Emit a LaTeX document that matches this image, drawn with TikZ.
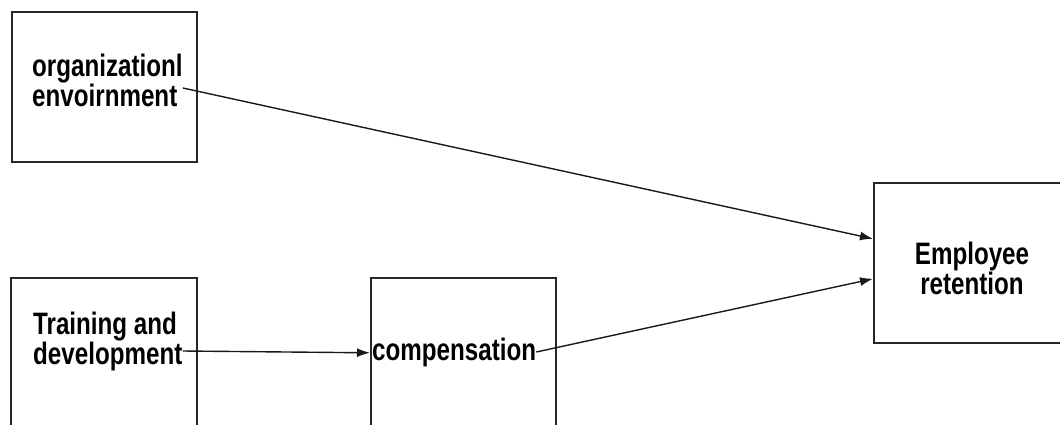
\documentclass[tikz,border=0pt]{standalone}
\usepackage{fontspec}
\newfontfamily\diafont[FakeStretch=0.78]{Liberation Sans Bold}
\usetikzlibrary{arrows.meta,calc}
\begin{document}
\begin{tikzpicture}[x=1pt,y=-1pt,
  box/.style={draw=black!85,line width=1.6pt,rectangle,inner sep=0pt,anchor=north west},
  lbl/.style={inner sep=0pt,font=\diafont\fontsize{31}{28}\selectfont},
  arr/.style={draw=black!90,line width=1.4pt,-{Latex[length=13pt,width=9pt]}}]
\useasboundingbox (0,0) rectangle (1060,425);
\clip (0,0) rectangle (1060,425);
\node[box,minimum width=185pt,minimum height=150pt] (org) at (11,11) {};
\node[box,minimum width=186pt,minimum height=150pt] (train) at (10,277) {};
\node[box,minimum width=185pt,minimum height=150pt] (comp) at (370,277) {};
\node[box,minimum width=250pt,minimum height=160pt] (emp) at (873,182) {};
\node[lbl,align=left,anchor=west] (orgtext) at (32,80) {organizationl\\envoirnment};
\node[lbl,align=left,anchor=west] (traintext) at (33,341) {Training and\\development};
\node[lbl,anchor=west] (comptext) at (372,352) {compensation};
\node[lbl,align=center] (emptext) at (972,268) {Employee\\retention};
\draw[arr] ([yshift=-8pt]orgtext.east) -- ([yshift=24pt]emp.west);
\draw[arr] ([yshift=-10pt]traintext.east) -- (comp.west);
\draw[arr] (comptext.east) -- ([yshift=-16pt]emp.west);
\end{tikzpicture}
\end{document}
